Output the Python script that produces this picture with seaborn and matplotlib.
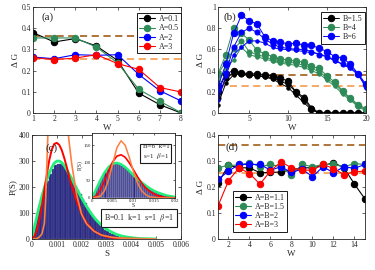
import numpy as np
import pandas as pd
import matplotlib
matplotlib.use("Agg")
import matplotlib.pyplot as plt
import seaborn as sns

# ---- panel (a) ----
w_a = [1, 2, 3, 4, 5, 6, 7, 8]
dg_a = {
    "A=0.1": [0.379, 0.335, 0.351, 0.316, 0.248, 0.094, 0.039, 0.0],
    "A=0.5": [0.354, 0.354, 0.354, 0.311, 0.236, 0.112, 0.055, 0.002],
    "A=2": [0.264, 0.256, 0.275, 0.272, 0.275, 0.182, 0.105, 0.057],
    "A=3": [0.261, 0.252, 0.259, 0.275, 0.233, 0.206, 0.120, 0.099],
}
ref_high = 0.362
ref_low = 0.255

# ---- panel (b) ----
w_b = list(range(1, 21))
b15_big = [0.20, 0.37, 0.40, 0.38, 0.37, 0.37, 0.36, 0.35, 0.33, 0.30, 0.20, 0.13, 0.04, 0.0, 0.0, 0.0, 0.0, 0.0, 0.0, 0.0]
b15_mid = [0.14, 0.33, 0.38, 0.37, 0.36, 0.35, 0.35, 0.33, 0.30, 0.27, 0.20, 0.15, 0.05, 0.0, 0.0, 0.0, 0.0, 0.0, 0.0, 0.0]
b15_small = [0.08, 0.28, 0.36, 0.37, 0.36, 0.35, 0.34, 0.32, 0.28, 0.24, 0.17, 0.10, 0.03, 0.0, 0.0, 0.0, 0.0, 0.0, 0.0, 0.0]
b4_big = [0.37, 0.55, 0.80, 0.75, 0.69, 0.59, 0.56, 0.53, 0.51, 0.50, 0.49, 0.48, 0.44, 0.42, 0.35, 0.29, 0.21, 0.14, 0.08, 0.04]
b4_mid = [0.37, 0.48, 0.60, 0.68, 0.58, 0.55, 0.53, 0.50, 0.48, 0.48, 0.47, 0.45, 0.42, 0.39, 0.33, 0.27, 0.20, 0.13, 0.07, 0.03]
b4_small = [0.30, 0.42, 0.50, 0.62, 0.55, 0.53, 0.51, 0.49, 0.47, 0.46, 0.45, 0.43, 0.40, 0.37, 0.31, 0.25, 0.18, 0.12, 0.06, 0.02]
b6_big = [0.25, 0.46, 0.75, 0.92, 0.87, 0.84, 0.72, 0.68, 0.67, 0.65, 0.66, 0.64, 0.64, 0.61, 0.58, 0.53, 0.52, 0.46, 0.37, 0.27]
b6_mid = [0.22, 0.38, 0.62, 0.76, 0.80, 0.76, 0.70, 0.65, 0.62, 0.61, 0.60, 0.60, 0.58, 0.55, 0.53, 0.50, 0.46, 0.43, 0.37, 0.25]
b6_small = [0.12, 0.35, 0.55, 0.62, 0.68, 0.68, 0.66, 0.62, 0.60, 0.60, 0.59, 0.58, 0.57, 0.56, 0.53, 0.49, 0.46, 0.42, 0.36, 0.24]

# ---- panel (c) ----
hist_c_s = [0.00005, 0.00015, 0.00025, 0.00035, 0.00045, 0.00055, 0.00065, 0.00075, 0.00085, 0.00095,
            0.00105, 0.00115, 0.00125, 0.00135, 0.00145, 0.00155, 0.00165, 0.00175, 0.00185, 0.00195,
            0.00205, 0.00215, 0.00225, 0.00235, 0.00245, 0.00255, 0.00265, 0.00275, 0.00285, 0.00295,
            0.00305, 0.00315, 0.00325, 0.00335, 0.00345, 0.00355, 0.00365, 0.00375]
hist_c_p = [25, 60, 95, 130, 165, 195, 225, 250, 270, 285,
            290, 288, 283, 272, 258, 238, 222, 205, 188, 172,
            155, 138, 120, 103, 90, 78, 65, 54, 44, 36,
            29, 23, 18, 14, 10, 7, 5, 3]
green_c_s = [0, 0.0001, 0.0002, 0.0003, 0.0004, 0.0005, 0.0006, 0.0007, 0.0008, 0.0009, 0.0010, 0.0011,
             0.0012, 0.0013, 0.0014, 0.0015, 0.0016, 0.0018, 0.0020, 0.0022, 0.0024, 0.0026, 0.0028,
             0.0030, 0.0032, 0.0034, 0.0036, 0.0038, 0.0040, 0.0043, 0.0046, 0.0050]
green_c_p = [0, 45, 88, 128, 165, 198, 228, 254, 276, 292, 300, 300,
             294, 283, 267, 250, 232, 194, 158, 125, 96, 72, 53,
             38, 27, 18, 12, 8, 5, 2, 1, 0]
red_c_s = [0, 0.0001, 0.0002, 0.0003, 0.0004, 0.0005, 0.0006, 0.0007, 0.0008, 0.0009, 0.0010, 0.0011,
           0.0012, 0.0013, 0.0014, 0.0015, 0.0016, 0.0018, 0.0020, 0.0022, 0.0024, 0.0026, 0.0028,
           0.0030, 0.0033, 0.0036, 0.0040, 0.0045]
red_c_p = [0, 10, 35, 75, 130, 190, 250, 305, 345, 366, 370, 362,
           342, 312, 277, 240, 205, 145, 97, 63, 40, 25, 15,
           9, 4, 2, 1, 0]
orange_c_s = [0, 0.0002, 0.0003, 0.0004, 0.0005, 0.00055, 0.0006, 0.00065, 0.0007, 0.0008, 0.0010,
              0.0012, 0.0014, 0.0015, 0.0016, 0.0018, 0.0020, 0.0022, 0.0025, 0.0028, 0.0032,
              0.0036, 0.0040, 0.0045, 0.0050]
orange_c_p = [0, 2, 8, 20, 60, 150, 290, 430, 560, 720, 800,
              680, 460, 370, 290, 170, 95, 58, 30, 15, 7,
              3, 2, 1, 0]

# inset of (c)
hist_i_s = [0.00025, 0.00075, 0.00125, 0.00175, 0.00225, 0.00275, 0.00325, 0.00375, 0.00425, 0.00475,
            0.00525, 0.00575, 0.00625, 0.00675, 0.00725, 0.00775, 0.00825, 0.00875, 0.00925, 0.00975,
            0.01025, 0.01075, 0.01125, 0.01175, 0.01225, 0.01275, 0.01325, 0.01375, 0.01425, 0.01475,
            0.01525, 0.01575, 0.01625, 0.01675, 0.01725, 0.01775, 0.01825, 0.01875]
hist_i_p = [5, 15, 28, 40, 52, 63, 73, 82, 89, 94,
            98, 100, 99, 97, 93, 89, 84, 79, 74, 69,
            64, 59, 54, 49, 44, 39, 35, 31, 27, 24,
            20, 17, 14, 12, 10, 8, 6, 5]
green_i_s = [0, 0.001, 0.002, 0.003, 0.004, 0.005, 0.006, 0.007, 0.008, 0.009, 0.010,
             0.011, 0.012, 0.013, 0.014, 0.015, 0.016, 0.017, 0.018, 0.019, 0.020]
green_i_p = [0, 25, 50, 72, 88, 98, 100, 96, 88, 77, 65,
             54, 44, 35, 27, 20, 15, 11, 7, 5, 3]
red_i_s = [0, 0.001, 0.002, 0.003, 0.004, 0.005, 0.006, 0.007, 0.008, 0.009, 0.010,
           0.011, 0.012, 0.013, 0.014, 0.015, 0.016, 0.017, 0.018, 0.020]
red_i_p = [0, 5, 22, 48, 78, 103, 119, 123, 116, 100, 80,
           60, 42, 28, 18, 11, 6, 3, 1.5, 0.5]
orange_i_s = [0, 0.002, 0.003, 0.004, 0.005, 0.006, 0.007, 0.008, 0.009, 0.010,
              0.011, 0.012, 0.013, 0.014, 0.016, 0.020]
orange_i_p = [0, 5, 20, 52, 98, 143, 163, 150, 115, 75,
              42, 20, 9, 3, 0.5, 0]

# ---- panel (d) ----
w_d = list(range(1, 16))
dg_d = {
    "A=B=1.1": [0.214, 0.284, 0.274, 0.274, 0.255, 0.256, 0.258, 0.266, 0.274, 0.274, 0.282, 0.294, 0.274, 0.211, 0.154],
    "A=B=1.5": [0.274, 0.284, 0.284, 0.294, 0.278, 0.287, 0.278, 0.246, 0.287, 0.278, 0.287, 0.287, 0.278, 0.290, 0.287],
    "A=B=2": [0.229, 0.261, 0.287, 0.287, 0.287, 0.265, 0.278, 0.256, 0.269, 0.240, 0.278, 0.255, 0.278, 0.272, 0.287],
    "A=B=3": [0.127, 0.224, 0.274, 0.252, 0.211, 0.262, 0.297, 0.274, 0.265, 0.265, 0.287, 0.271, 0.248, 0.259, 0.261],
}

colors4 = ["#000000", "#2e8b57", "#0000ff", "#ff0000"]
brown = "#a86a2a"
sandy = "#f7a35c"
bar_col = "#2a2a82"

sns.set_theme(style="ticks")
plt.rcParams["font.family"] = ["Liberation Serif", "DejaVu Serif"]
plt.rcParams["mathtext.fontset"] = "stix"
plt.rcParams.update({
    "xtick.direction": "in", "ytick.direction": "in",
    "xtick.top": True, "ytick.right": True,
    "xtick.major.size": 2, "ytick.major.size": 2,
    "xtick.major.width": 0.5, "ytick.major.width": 0.5,
    "xtick.labelsize": 5.5, "ytick.labelsize": 5.5,
    "xtick.major.pad": 1.5, "ytick.major.pad": 1.5,
    "axes.linewidth": 0.6, "axes.labelsize": 6.5,
})

fig = plt.figure(figsize=(3.75, 2.7), dpi=100)
ax_a = fig.add_axes([0.088, 0.5815, 0.3947, 0.3926])
ax_b = fig.add_axes([0.5813, 0.5815, 0.3947, 0.3926])
ax_c = fig.add_axes([0.0853, 0.1148, 0.397, 0.385])
ax_d = fig.add_axes([0.5813, 0.1148, 0.392, 0.385])
ax_i = fig.add_axes([0.2453, 0.2667, 0.2213, 0.2407])

MS = 4.6


def ref_lines(ax):
    ax.axhline(ref_high, color=brown, lw=1.3, ls=(0, (4, 2.5)), zorder=1.5)
    ax.axhline(ref_low, color=sandy, lw=1.3, ls=(0, (4, 2.5)), zorder=1.5)


def legend_box(ax, **kw):
    leg = ax.legend(fontsize=5.8, frameon=True, fancybox=False, framealpha=1,
                    edgecolor="k", borderpad=0.3, labelspacing=0.15,
                    handlelength=2.0, handletextpad=0.4, borderaxespad=0, **kw)
    leg.get_frame().set_linewidth(0.7)


def hist_bars(ax, centers, heights, width, edge):
    df = pd.DataFrame({"S": centers, "P": heights})
    sns.histplot(data=df, x="S", weights="P", binwidth=width,
                 binrange=(centers[0] - width / 2, centers[-1] + width / 2),
                 color=bar_col, alpha=1, edgecolor=edge, linewidth=0.25, ax=ax)


# (a)
ref_lines(ax_a)
for (lab, vals), c in zip(dg_a.items(), colors4):
    sns.lineplot(x=w_a, y=vals, color=c, marker="o", markersize=MS, markeredgecolor=c,
                 linewidth=0.8, label=lab, ax=ax_a)
ax_a.set_xlim(1, 8)
ax_a.set_ylim(0, 0.5)
ax_a.set_xticks(w_a)
ax_a.set_yticks([0, 0.1, 0.2, 0.3, 0.4, 0.5])
ax_a.set_yticklabels(["0", "0.1", "0.2", "0.3", "0.4", "0.5"])
ax_a.set_xlabel("W", labelpad=1)
ax_a.set_ylabel("Δ G", labelpad=1)
legend_box(ax_a, loc="upper right", bbox_to_anchor=(1.0, 0.945))
ax_a.text(0.06, 0.9, "(a)", transform=ax_a.transAxes, fontsize=8, va="center")

# (b)
ref_lines(ax_b)
b_series = [
    (b15_big, b15_mid, b15_small, colors4[0], "B=1.5"),
    (b4_big, b4_mid, b4_small, colors4[1], "B=4"),
    (b6_big, b6_mid, b6_small, colors4[2], "B=6"),
]
for big, mid, small, c, lab in b_series:
    sns.lineplot(x=w_b, y=small, color=c, marker="o", markersize=2.4, markeredgecolor=c,
                 linewidth=0.7, ax=ax_b)
    sns.lineplot(x=w_b, y=mid, color=c, marker="o", markersize=3.6, markeredgecolor=c,
                 linewidth=0.7, ax=ax_b)
    sns.lineplot(x=w_b, y=big, color=c, marker="o", markersize=MS, markeredgecolor=c,
                 linewidth=0.7, label=lab, ax=ax_b)
ax_b.set_xlim(1, 20)
ax_b.set_ylim(0, 1)
ax_b.set_xticks([5, 10, 15, 20])
ax_b.set_yticks([0, 0.2, 0.4, 0.6, 0.8, 1])
ax_b.set_yticklabels(["0", "0.2", "0.4", "0.6", "0.8", "1"])
ax_b.set_xlabel("W", labelpad=1)
ax_b.set_ylabel("Δ G", labelpad=1)
legend_box(ax_b, loc="upper right", bbox_to_anchor=(0.99, 0.95))
ax_b.text(0.04, 0.9, "(b)", transform=ax_b.transAxes, fontsize=8, va="center")

# (c)
hist_bars(ax_c, hist_c_s, hist_c_p, 0.0001, "#6a6aa8")
sns.lineplot(x=green_c_s, y=green_c_p, color="#22f07a", linewidth=2.0, sort=False, ax=ax_c)
sns.lineplot(x=red_c_s, y=red_c_p, color="#ff0000", linewidth=1.4, sort=False, ax=ax_c)
sns.lineplot(x=orange_c_s, y=orange_c_p, color="#ff7f40", linewidth=1.2, sort=False, ax=ax_c)
ax_c.set_xlim(0, 0.006)
ax_c.set_ylim(0, 400)
ax_c.set_xticks([0, 0.001, 0.002, 0.003, 0.004, 0.005, 0.006])
ax_c.set_xticklabels(["0", "0.001", "0.002", "0.003", "0.004", "0.005", "0.006"])
ax_c.set_yticks([0, 100, 200, 300, 400])
ax_c.set_yticklabels(["0", "100", "200", "300", "400"])
ax_c.set_xlabel("S", labelpad=1)
ax_c.set_ylabel("P(S)", labelpad=1)
ax_c.text(0.09, 0.875, "(c)", transform=ax_c.transAxes, fontsize=8, va="center")
ax_c.text(0.72, 0.2, r"B=0.1  k=1  s=1  $\beta$=1", transform=ax_c.transAxes,
          fontsize=5.8, ha="center", va="center",
          bbox=dict(boxstyle="square,pad=0.35", fc="white", ec="k", lw=0.8))

# inset
hist_bars(ax_i, hist_i_s, hist_i_p, 0.0005, "white")
sns.lineplot(x=green_i_s, y=green_i_p, color="#22f07a", linewidth=1.8, sort=False, ax=ax_i)
sns.lineplot(x=red_i_s, y=red_i_p, color="#ff0000", linewidth=1.2, sort=False, ax=ax_i)
sns.lineplot(x=orange_i_s, y=orange_i_p, color="#ff7f40", linewidth=1.1, sort=False, ax=ax_i)
ax_i.set_xlim(0, 0.02)
ax_i.set_ylim(0, 185)
ax_i.set_xticks([0, 0.005, 0.01, 0.015, 0.02])
ax_i.set_xticklabels(["0", "0.005", "0.01", "0.015", "0.02"])
ax_i.set_yticks([0, 50, 100, 150])
ax_i.set_yticklabels(["0", "50", "100", "150"])
ax_i.tick_params(labelsize=3.5, length=1.5, pad=1)
ax_i.set_xlabel("S", fontsize=4, labelpad=0)
ax_i.set_ylabel("P(S)", fontsize=4, labelpad=0)
ax_i.text(0.77, 0.7, "B=6  k=1\n" + r"s=1  $\beta$=1", transform=ax_i.transAxes,
          fontsize=5, ha="center", va="center", linespacing=1.3,
          bbox=dict(boxstyle="square,pad=0.3", fc="white", ec="k", lw=0.8))

# (d)
ref_lines(ax_d)
for (lab, vals), c in zip(dg_d.items(), colors4):
    sns.lineplot(x=w_d, y=vals, color=c, marker="o", markersize=MS, markeredgecolor=c,
                 linewidth=0.8, label=lab, ax=ax_d)
ax_d.set_xlim(1, 15)
ax_d.set_ylim(0, 0.4)
ax_d.set_xticks([2, 4, 6, 8, 10, 12, 14])
ax_d.set_yticks([0, 0.1, 0.2, 0.3, 0.4])
ax_d.set_yticklabels(["0", "0.1", "0.2", "0.3", "0.4"])
ax_d.set_xlabel("W", labelpad=1)
ax_d.set_ylabel("Δ G", labelpad=1)
legend_box(ax_d, loc="lower left", bbox_to_anchor=(0.10, 0.07))
ax_d.text(0.05, 0.885, "(d)", transform=ax_d.transAxes, fontsize=8, va="center")

fig.savefig("out.png", dpi=100)
